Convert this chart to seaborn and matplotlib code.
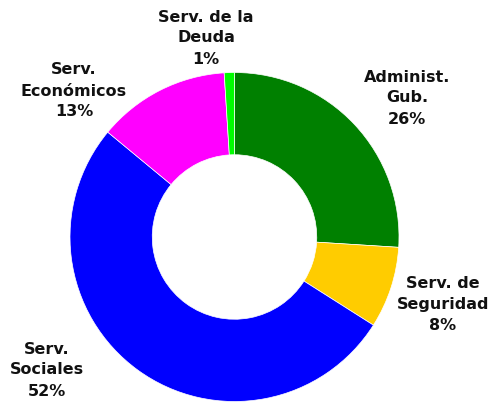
import seaborn as sns
import matplotlib
matplotlib.use("Agg")
import matplotlib.pyplot as plt

# Distribución del gasto por función
categories = ["Administ.\nGub.", "Serv. de\nSeguridad", "Serv.\nSociales",
              "Serv.\nEconómicos", "Serv. de la\nDeuda"]
shares = [26, 8, 52, 13, 1]
slice_colors = ["#008000", "#FFCC00", "#0000FF", "#FF00FF", "#00FF00"]

sns.set_theme(style="white")
plt.rcParams['font.family'] = ['DejaVu Sans']

W, H = 493, 405
fig = plt.figure(figsize=(W / 100, H / 100), dpi=100)
# donut centre ~ (234, 237) px from top-left, radius ~164 px
cx, cy, r = 234.5, 237, 164.5
ax = fig.add_axes([(cx - r) / W, (H - cy - r) / H, 2 * r / W, 2 * r / H])

wedges, _ = ax.pie(shares, colors=slice_colors, startangle=90, counterclock=False,
                   radius=1.0, wedgeprops=dict(width=0.5, edgecolor="white", linewidth=0.5))
ax.set_xlim(-1.0, 1.0)
ax.set_ylim(-1.0, 1.0)
ax.set_aspect("equal")
ax.axis("off")

# label centres in pixels (from top-left)
label_pos = [(407, 98), (443, 304), (47, 370), (74, 91), (206, 38)]
for name, val, (px, py) in zip(categories, shares, label_pos):
    fig.text(px / W, 1 - py / H, f"{name}\n{val}%", ha="center", va="center",
             fontsize=11.5, fontweight="bold", color="#111111", linespacing=1.5)

fig.savefig("out.png", dpi=100)
